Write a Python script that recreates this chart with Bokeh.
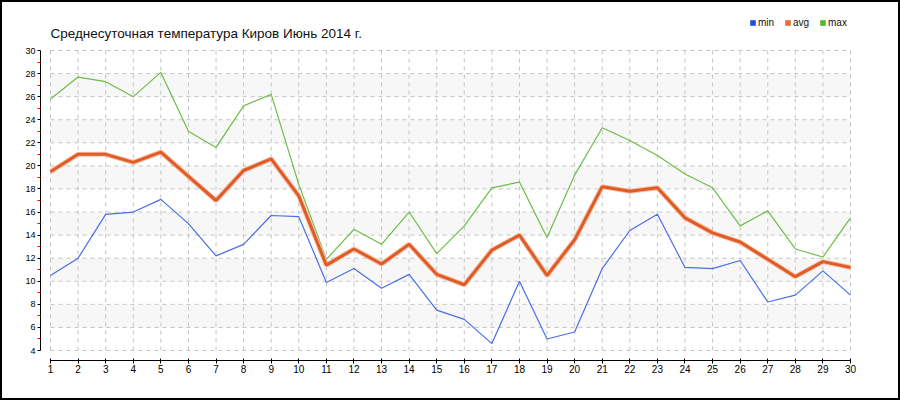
from bokeh.plotting import figure
from bokeh.models import Range1d, FixedTicker, Label, Legend, LegendItem
from bokeh.embed import file_html
from bokeh.resources import INLINE

# ---- data ----
days = list(range(1, 31))
t_min = [10.5, 12.0, 15.8, 16.0, 17.1, 15.0, 12.2, 13.2, 15.7, 15.6,
         9.9, 11.1, 9.4, 10.6, 7.5, 6.7, 4.6, 10.0, 5.0, 5.6,
         11.1, 14.4, 15.8, 11.2, 11.1, 11.8, 8.2, 8.8, 10.9, 8.8]
t_avg = [19.5, 21.0, 21.0, 20.3, 21.2, 19.1, 17.0, 19.6, 20.6, 17.4,
         11.4, 12.8, 11.5, 13.2, 10.6, 9.7, 12.7, 14.0, 10.5, 13.6,
         18.2, 17.8, 18.1, 15.5, 14.2, 13.4, 11.9, 10.4, 11.7, 11.2]
t_max = [25.8, 27.7, 27.3, 26.0, 28.1, 23.0, 21.6, 25.2, 26.2, 18.4,
         11.9, 14.5, 13.2, 16.0, 12.4, 14.8, 18.1, 18.6, 13.8, 19.2,
         23.3, 22.2, 20.9, 19.3, 18.1, 14.8, 16.1, 12.8, 12.1, 15.5]
y_ticks = list(range(4, 31, 2))
y_minor = list(range(5, 30, 2))
band_bottoms = [6, 10, 14, 18, 22, 26]
band_tops = [8, 12, 16, 20, 24, 28]
title_text = "Среднесуточная температура Киров  Июнь 2014 г."
series_names = ["min", "avg", "max"]

FONT = "Liberation Sans"
PX_X = 800 / 29.0   # pixels per day
PX_Y = 300 / 26.0   # pixels per degree
B = 2               # outer border width (css)

x_lo, x_hi = days[0], days[-1]
y_lo, y_hi = y_ticks[0], y_ticks[-1]

# canvas is drawn 900x400 starting B px inside the css border
p = figure(width=900 - 2 * B, height=400 - 2 * B, output_backend="svg",
           toolbar_location=None,
           x_range=Range1d(x_lo - 10 / PX_X, x_hi + (50 + B) / PX_X),
           y_range=Range1d(y_lo - 10 / PX_Y, y_hi + (50 - B) / PX_Y),
           min_border_left=40 - B, min_border_right=0,
           min_border_top=0, min_border_bottom=40 + B)
p.styles = {"border": "%dpx solid black" % B, "box-sizing": "content-box",
            "border-radius": "0px"}
p.xgrid.visible = False
p.ygrid.visible = False
p.outline_line_color = None
p.background_fill_color = "white"
p.border_fill_color = "white"

# bands
p.quad(left=[x_lo] * len(band_bottoms), right=[x_hi] * len(band_bottoms),
       bottom=band_bottoms, top=band_tops, fill_color="#f7f7f7", line_color=None)

# grid
p.segment(x0=[x_lo] * len(y_ticks), x1=[x_hi] * len(y_ticks), y0=y_ticks, y1=y_ticks,
          line_color="#c4c4c4", line_width=1, line_dash="4 4")
p.segment(x0=days, x1=days, y0=[y_lo] * len(days), y1=[y_hi] * len(days),
          line_color="#c4c4c4", line_width=1, line_dash="4 4")

# lines
p.line(days, t_max, line_color="#6dbd47", line_width=1.2)
p.line(days, t_min, line_color="#4a6ee6", line_width=1.2)
p.line(days, t_avg, line_color="#f5c0a8", line_width=5)
p.line(days, t_avg, line_color="#e05c26", line_width=3)

# axes
p.xaxis.ticker = FixedTicker(ticks=days)
p.xaxis.bounds = (x_lo, x_hi)
p.xaxis.axis_line_color = "black"
p.xaxis.major_tick_line_color = "black"
p.xaxis.major_tick_in = 2
p.xaxis.major_tick_out = 3
p.xaxis.minor_tick_line_color = None
p.xaxis.major_label_standoff = 1
p.xaxis.major_label_text_font = FONT
p.xaxis.major_label_text_font_size = "10px"
p.xaxis.major_label_text_color = "#000000"

p.yaxis.ticker = FixedTicker(ticks=y_ticks, minor_ticks=y_minor)
p.yaxis.bounds = (y_lo, y_hi)
p.yaxis.axis_line_color = "black"
p.yaxis.major_tick_line_color = "black"
p.yaxis.major_tick_in = 0
p.yaxis.major_tick_out = 3
p.yaxis.minor_tick_line_color = "red"
p.yaxis.minor_tick_in = 0
p.yaxis.minor_tick_out = 3
p.yaxis.major_label_standoff = 2
p.yaxis.major_label_text_font = FONT
p.yaxis.major_label_text_font_size = "9px"
p.yaxis.major_label_text_color = "#000000"

# title
p.add_layout(Label(x=x_lo, y=y_hi + 17 / PX_Y, text=title_text, text_font=FONT,
                   text_font_size="13.5px", text_color="#111111",
                   text_baseline="alphabetic", text_align="left"))

# legend with square swatches
sw_colors = ["#1f4be0", "#ee6a32", "#4cb82b"]
nan = float("nan")
items = []
for name, c in zip(series_names, sw_colors):
    r = p.quad(left=[nan], right=[nan], bottom=[nan], top=[nan],
               fill_color=c, line_color=None)
    items.append(LegendItem(label=name, renderers=[r]))
legend = Legend(items=items, orientation="horizontal", location=(709, 332),
                glyph_width=7, glyph_height=7, label_standoff=2, spacing=6,
                padding=0, margin=0, label_height=10,
                label_text_font=FONT, label_text_font_size="10px",
                label_text_color="#111111",
                border_line_color=None, background_fill_alpha=0)
p.add_layout(legend, "center")

open("out.html", "w").write(file_html(p, INLINE))
